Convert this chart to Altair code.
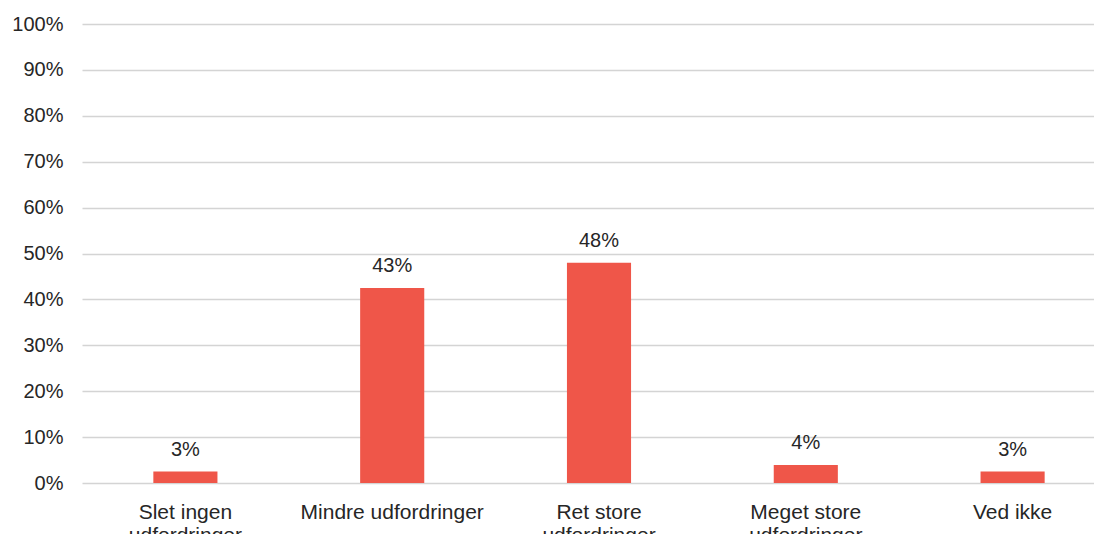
import altair as alt
import pandas as pd

categories = ["Slet ingen\nudfordringer", "Mindre udfordringer", "Ret store\nudfordringer",
              "Meget store\nudfordringer", "Ved ikke"]
values = [0.025, 0.425, 0.48, 0.039, 0.025]
value_labels = ["3%", "43%", "48%", "4%", "3%"]
y_ticks = [i / 10 for i in range(11)]

df = pd.DataFrame({"cat": categories, "val": values, "lab": value_labels})

FONT = "Liberation Sans"
TXT = "#262626"

x = alt.X("cat:N", sort=categories, title=None,
          scale=alt.Scale(paddingInner=0.69, paddingOuter=0.345),
          axis=alt.Axis(labelExpr="split(datum.label, '\\n')", labelAngle=0,
                        labelFont=FONT, labelFontSize=21, labelColor=TXT,
                        labelLineHeight=23, labelPadding=18, labelLimit=400,
                        ticks=False, domain=False, grid=False, labelBaseline="top"))
y = alt.Y("val:Q", title=None,
          scale=alt.Scale(domain=[0, 1], nice=False),
          axis=alt.Axis(values=y_ticks, format=".0%", labelFont=FONT, labelFontSize=20,
                        labelColor=TXT, labelPadding=19, ticks=False, domain=False,
                        grid=True, gridColor="#d4d4d4", gridWidth=1.5))

bars = alt.Chart(df).mark_bar(color="#EF5649").encode(x=x, y=y)
text = alt.Chart(df).mark_text(font=FONT, fontSize=20, color=TXT, dy=-16,
                               baseline="alphabetic").encode(
    x=alt.X("cat:N", sort=categories), y="val:Q", text="lab:N")

chart = (bars + text).properties(
    width=1034, height=459,
    autosize=alt.AutoSizeParams(type="none"),
    padding={"left": 74, "top": 16, "right": -22, "bottom": 51},
).configure_view(stroke=None)

chart.save("out.html", embed_options={"renderer": "svg", "actions": False})
